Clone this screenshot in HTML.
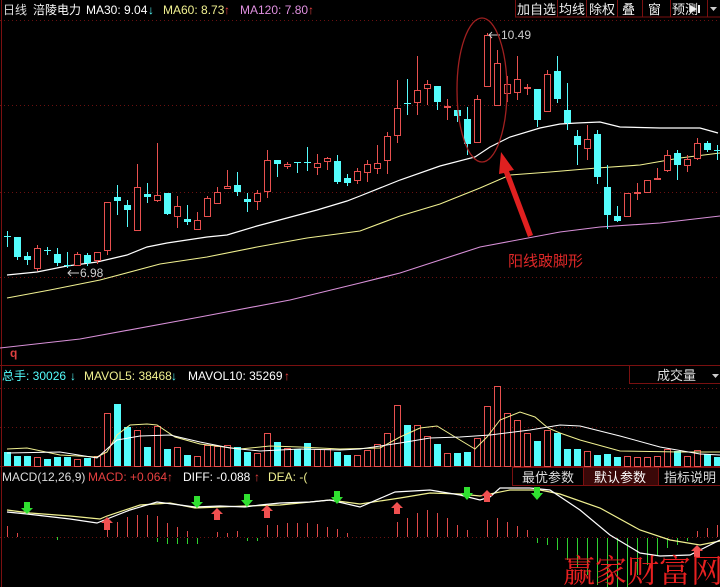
<!DOCTYPE html>
<html><head><meta charset="utf-8"><style>
body{margin:0;background:#000;width:720px;height:587px;overflow:hidden}
svg{display:block}
.c{stroke:#54fcfc;stroke-width:1}
.cb{fill:#54fcfc}
.r{stroke:#e8504f;stroke-width:1}
.rb{fill:#000;stroke:#e8504f;stroke-width:1}
text{font-family:"Liberation Sans","Noto Sans CJK SC",sans-serif;font-size:12px}
.grid{stroke:#6a1010;stroke-dasharray:1 3;stroke-width:1}
</style></head><body>
<svg width="720" height="587" viewBox="0 0 720 587" xmlns="http://www.w3.org/2000/svg">
<rect width="720" height="587" fill="#000"/>
<!-- frame -->
<line x1="1.5" y1="0" x2="1.5" y2="587" stroke="#7a1010"/>
<line x1="0" y1="365.5" x2="720" y2="365.5" stroke="#7a1010"/>
<line x1="0" y1="466.5" x2="720" y2="466.5" stroke="#7a1010"/>
<line x1="0" y1="20.5" x2="720" y2="20.5" class="grid"/>
<line x1="0" y1="105.5" x2="720" y2="105.5" class="grid"/>
<line x1="0" y1="192.5" x2="720" y2="192.5" class="grid"/>
<line x1="0" y1="277.5" x2="720" y2="277.5" class="grid"/>
<line x1="0" y1="388.5" x2="720" y2="388.5" class="grid"/>
<line x1="0" y1="427.5" x2="720" y2="427.5" class="grid"/>
<line x1="0" y1="537.5" x2="720" y2="537.5" class="grid"/>

<!-- header -->
<text x="3" y="14" fill="#ddd">日线</text>
<text x="33" y="14" fill="#fff">涪陵电力</text>
<text x="86" y="14" fill="#fff">MA30: 9.04</text><text x="148" y="14" fill="#54fcfc">↓</text>
<text x="163" y="14" fill="#f0f090">MA60: 8.73</text><text x="224" y="14" fill="#e84040">↑</text>
<text x="240" y="14" fill="#e090e0">MA120: 7.80</text><text x="308" y="14" fill="#e84040">↑</text>
<g stroke="#7a1010" fill="none">
<rect x="515.5" y="-1" width="205" height="18"/>
<line x1="557.5" y1="0" x2="557.5" y2="17"/><line x1="586.5" y1="0" x2="586.5" y2="17"/>
<line x1="617.5" y1="0" x2="617.5" y2="17"/><line x1="642.5" y1="0" x2="642.5" y2="17"/>
<line x1="670.5" y1="0" x2="670.5" y2="17"/><line x1="707.5" y1="0" x2="707.5" y2="17"/>
</g>
<g fill="#eee" font-size="13">
<text x="517" y="14" style="font-size:13px">加自选</text><text x="559" y="14" style="font-size:13px">均线</text>
<text x="589" y="14" style="font-size:13px">除权</text><text x="622" y="14" style="font-size:13px">叠</text>
<text x="648" y="14" style="font-size:13px">窗</text><text x="672" y="14" style="font-size:13px">预测</text>
</g>
<polygon points="690,5 690,13 697,9" fill="#eee"/><rect x="698" y="5" width="2" height="8" fill="#eee"/>
<polygon points="710,7 717,7 713.5,11" fill="#ccc"/>

<!-- MA lines -->
<polyline fill="none" stroke="#fff" stroke-width="1.2" points="7,275 37,272 67,266 97,262 127,255 147,247 167,243 207,237 227,235 257,226 287,218 317,210 347,201 360,196 400,180 440,166 475,157 490,147 510,137 540,128 560,124 577,123 600,122 620,127 660,128 700,128 718,133"/>
<polyline fill="none" stroke="#f0f090" stroke-width="1.1" points="7,298 50,290 100,280 160,264 207,257 257,247 307,238 360,231 400,216 440,204 480,188 510,175 550,172 597,168 640,165 680,158 720,153"/>
<polyline fill="none" stroke="#d890d8" stroke-width="1.1" points="0,348 80,339 200,317 290,300 360,283 400,273 440,260 480,247 560,232 600,227 660,223 720,216"/>

<!-- candles -->
<g shape-rendering="crispEdges">
<line x1="7.5" y1="231" x2="7.5" y2="247" class="c"/><rect x="4" y="236" width="7" height="1" class="cb"/>
<line x1="17.5" y1="237" x2="17.5" y2="260" class="c"/><rect x="14" y="237" width="7" height="20" class="cb"/>
<line x1="27.5" y1="252" x2="27.5" y2="265" class="c"/><rect x="24" y="256" width="7" height="4" class="cb"/>
<line x1="37.5" y1="245" x2="37.5" y2="271" class="r"/><rect x="34.5" y="248.5" width="6" height="20" class="rb"/>
<line x1="47.5" y1="247" x2="47.5" y2="255" class="c"/><rect x="44" y="250" width="7" height="1" class="cb"/>
<line x1="57.5" y1="248" x2="57.5" y2="266" class="c"/><rect x="54" y="254" width="7" height="9" class="cb"/>
<line x1="67.5" y1="252" x2="67.5" y2="268" class="c"/><rect x="64" y="265" width="7" height="1" class="cb"/>
<line x1="77.5" y1="252" x2="77.5" y2="265" class="r"/><rect x="74.5" y="254.5" width="6" height="11" class="rb"/>
<line x1="87.5" y1="253" x2="87.5" y2="266" class="c"/><rect x="84" y="255" width="7" height="8" class="cb"/>
<line x1="97.5" y1="252" x2="97.5" y2="264" class="r"/><rect x="94.5" y="252.5" width="6" height="8" class="rb"/>
<line x1="107.5" y1="202" x2="107.5" y2="255" class="r"/><rect x="104.5" y="202.5" width="6" height="48" class="rb"/>
<line x1="117.5" y1="185" x2="117.5" y2="215" class="c"/><rect x="114" y="197" width="7" height="4" class="cb"/>
<line x1="127.5" y1="200" x2="127.5" y2="227" class="c"/><rect x="124" y="205" width="7" height="5" class="cb"/>
<line x1="137.5" y1="164" x2="137.5" y2="230" class="r"/><rect x="134.5" y="187.5" width="6" height="43" class="rb"/>
<line x1="147.5" y1="183" x2="147.5" y2="203" class="c"/><rect x="144" y="194" width="7" height="3" class="cb"/>
<line x1="157.5" y1="143" x2="157.5" y2="202" class="r"/><rect x="154.5" y="195.5" width="6" height="5" class="rb"/>
<line x1="167.5" y1="193" x2="167.5" y2="215" class="c"/><rect x="164" y="193" width="7" height="21" class="cb"/>
<line x1="177.5" y1="196" x2="177.5" y2="228" class="r"/><rect x="174.5" y="206.5" width="6" height="10" class="rb"/>
<line x1="187.5" y1="205" x2="187.5" y2="225" class="c"/><rect x="184" y="219" width="7" height="3" class="cb"/>
<line x1="197.5" y1="212" x2="197.5" y2="230" class="r"/><rect x="194.5" y="220.5" width="6" height="9" class="rb"/>
<line x1="207.5" y1="196" x2="207.5" y2="216" class="r"/><rect x="204.5" y="198.5" width="6" height="18" class="rb"/>
<line x1="217.5" y1="187" x2="217.5" y2="204" class="r"/><rect x="214.5" y="192.5" width="6" height="11" class="rb"/>
<line x1="227.5" y1="170" x2="227.5" y2="189" class="r"/><rect x="224.5" y="186.5" width="6" height="2" class="rb"/>
<line x1="237.5" y1="172" x2="237.5" y2="196" class="c"/><rect x="234" y="185" width="7" height="7" class="cb"/>
<line x1="247.5" y1="193" x2="247.5" y2="212" class="c"/><rect x="244" y="199" width="7" height="3" class="cb"/>
<line x1="257.5" y1="190" x2="257.5" y2="210" class="r"/><rect x="254.5" y="193.5" width="6" height="8" class="rb"/>
<line x1="267.5" y1="150" x2="267.5" y2="198" class="r"/><rect x="264.5" y="160.5" width="6" height="31" class="rb"/>
<line x1="277.5" y1="160" x2="277.5" y2="177" class="c"/><rect x="274" y="160" width="7" height="4" class="cb"/>
<line x1="287.5" y1="162" x2="287.5" y2="169" class="r"/><rect x="284.5" y="164.5" width="6" height="2" class="rb"/>
<line x1="297.5" y1="162" x2="297.5" y2="173" class="c"/><rect x="294" y="162" width="7" height="1" class="cb"/>
<line x1="307.5" y1="147" x2="307.5" y2="171" class="c"/><rect x="304" y="162" width="7" height="1" class="cb"/>
<line x1="317.5" y1="154" x2="317.5" y2="175" class="r"/><rect x="314.5" y="163.5" width="6" height="4" class="rb"/>
<line x1="327.5" y1="157" x2="327.5" y2="170" class="r"/><rect x="324.5" y="158.5" width="6" height="3" class="rb"/>
<line x1="337.5" y1="155" x2="337.5" y2="184" class="c"/><rect x="334" y="161" width="7" height="21" class="cb"/>
<line x1="347.5" y1="174" x2="347.5" y2="186" class="c"/><rect x="344" y="178" width="7" height="5" class="cb"/>
<line x1="357.5" y1="168" x2="357.5" y2="184" class="r"/><rect x="354.5" y="171.5" width="6" height="9" class="rb"/>
<line x1="367.5" y1="160" x2="367.5" y2="182" class="r"/><rect x="364.5" y="164.5" width="6" height="8" class="rb"/>
<line x1="377.5" y1="145" x2="377.5" y2="174" class="r"/><rect x="374.5" y="163.5" width="6" height="5" class="rb"/>
<line x1="387.5" y1="132" x2="387.5" y2="174" class="r"/><rect x="384.5" y="136.5" width="6" height="24" class="rb"/>
<line x1="397.5" y1="80" x2="397.5" y2="143" class="r"/><rect x="394.5" y="108.5" width="6" height="27" class="rb"/>
<line x1="407.5" y1="79" x2="407.5" y2="115" class="c"/><rect x="404" y="103" width="7" height="1" class="cb"/>
<line x1="417.5" y1="56" x2="417.5" y2="115" class="r"/><rect x="414.5" y="90.5" width="6" height="12" class="rb"/>
<line x1="427.5" y1="80" x2="427.5" y2="105" class="r"/><rect x="424.5" y="84.5" width="6" height="4" class="rb"/>
<line x1="437.5" y1="86" x2="437.5" y2="110" class="c"/><rect x="434" y="86" width="7" height="16" class="cb"/>
<line x1="447.5" y1="99" x2="447.5" y2="120" class="r"/><rect x="444.5" y="106.5" width="6" height="1" class="rb"/>
<line x1="457.5" y1="110" x2="457.5" y2="122" class="c"/><rect x="454" y="110" width="7" height="6" class="cb"/>
<line x1="467.5" y1="107" x2="467.5" y2="155" class="c"/><rect x="464" y="119" width="7" height="25" class="cb"/>
<line x1="477.5" y1="95" x2="477.5" y2="142" class="r"/><rect x="474.5" y="99.5" width="6" height="43" class="rb"/>
<line x1="487.5" y1="33" x2="487.5" y2="86" class="r"/><rect x="484.5" y="35.5" width="6" height="51" class="rb"/>
<line x1="497.5" y1="50" x2="497.5" y2="105" class="r"/><rect x="494.5" y="63.5" width="6" height="42" class="rb"/>
<line x1="507.5" y1="76" x2="507.5" y2="102" class="r"/><rect x="504.5" y="84.5" width="6" height="9" class="rb"/>
<line x1="517.5" y1="56" x2="517.5" y2="100" class="r"/><rect x="514.5" y="79.5" width="6" height="13" class="rb"/>
<line x1="527.5" y1="84" x2="527.5" y2="95" class="r"/><rect x="524.5" y="87.5" width="6" height="1" class="rb"/>
<line x1="537.5" y1="89" x2="537.5" y2="127" class="c"/><rect x="534" y="89" width="7" height="31" class="cb"/>
<line x1="547.5" y1="70" x2="547.5" y2="112" class="r"/><rect x="544.5" y="74.5" width="6" height="37" class="rb"/>
<line x1="557.5" y1="56" x2="557.5" y2="103" class="c"/><rect x="554" y="71" width="7" height="28" class="cb"/>
<line x1="567.5" y1="83" x2="567.5" y2="130" class="c"/><rect x="564" y="110" width="7" height="13" class="cb"/>
<line x1="577.5" y1="130" x2="577.5" y2="165" class="c"/><rect x="574" y="136" width="7" height="9" class="cb"/>
<line x1="587.5" y1="125" x2="587.5" y2="160" class="r"/><rect x="584.5" y="139.5" width="6" height="9" class="rb"/>
<line x1="597.5" y1="130" x2="597.5" y2="184" class="c"/><rect x="594" y="134" width="7" height="43" class="cb"/>
<line x1="607.5" y1="165" x2="607.5" y2="229" class="c"/><rect x="604" y="187" width="7" height="28" class="cb"/>
<line x1="617.5" y1="206" x2="617.5" y2="222" class="c"/><rect x="614" y="216" width="7" height="5" class="cb"/>
<line x1="627.5" y1="193" x2="627.5" y2="216" class="r"/><rect x="624.5" y="193.5" width="6" height="23" class="rb"/>
<line x1="637.5" y1="183" x2="637.5" y2="200" class="r"/><rect x="634.5" y="192.5" width="6" height="1" class="rb"/>
<line x1="647.5" y1="180" x2="647.5" y2="192" class="r"/><rect x="644.5" y="180.5" width="6" height="12" class="rb"/>
<line x1="657.5" y1="168" x2="657.5" y2="180" class="r"/><rect x="654.5" y="178.5" width="6" height="1" class="rb"/>
<line x1="667.5" y1="150" x2="667.5" y2="172" class="r"/><rect x="664.5" y="155.5" width="6" height="15" class="rb"/>
<line x1="677.5" y1="150" x2="677.5" y2="180" class="c"/><rect x="674" y="153" width="7" height="12" class="cb"/>
<line x1="687.5" y1="155" x2="687.5" y2="172" class="r"/><rect x="684.5" y="159.5" width="6" height="6" class="rb"/>
<line x1="697.5" y1="138" x2="697.5" y2="160" class="r"/><rect x="694.5" y="143.5" width="6" height="15" class="rb"/>
<line x1="707.5" y1="141" x2="707.5" y2="152" class="c"/><rect x="704" y="143" width="7" height="7" class="cb"/>
<line x1="717.5" y1="145" x2="717.5" y2="160" class="c"/><rect x="714" y="150" width="7" height="1" class="cb"/>
</g>

<!-- annotations -->
<line x1="68" y1="273" x2="79" y2="273" stroke="#ccc"/><polyline points="71,270 68,273 71,276" fill="none" stroke="#ccc"/>
<text x="80" y="277" fill="#ccc">6.98</text>
<line x1="489" y1="35" x2="500" y2="35" stroke="#ccc"/><polyline points="492,32 489,35 492,38" fill="none" stroke="#ccc"/>
<text x="501" y="39" fill="#ccc">10.49</text>
<ellipse cx="482" cy="90" rx="25" ry="72" fill="none" stroke="#a02020" stroke-width="1.3"/>
<polygon points="501,152 514,170 509,171 533,235 528,237 504,173 499,174" fill="#e02020"/>
<text x="508" y="266" fill="#e02828" style="font-size:15px">阳线跛脚形</text>
<text x="10" y="357" fill="#e04040" style="font-size:12px;font-weight:bold">q</text>

<!-- volume header -->
<text x="2" y="380" fill="#54fcfc">总手: 30026</text><text x="70" y="380" fill="#54fcfc">↓</text>
<text x="84" y="380" fill="#f0f090">MAVOL5: 38468</text><text x="171" y="380" fill="#54fcfc">↓</text>
<text x="188" y="380" fill="#fff">MAVOL10: 35269</text><text x="284" y="380" fill="#e84040">↑</text>
<rect x="629.5" y="365.5" width="91" height="18" fill="none" stroke="#7a1010"/>
<text x="657" y="380" fill="#ddd" style="font-size:13px">成交量</text>
<polygon points="712,374 719,374 715.5,378" fill="#ccc"/>

<!-- volume bars -->
<g shape-rendering="crispEdges">
<rect x="4" y="452" width="7" height="14" class="cb"/>
<rect x="14" y="456" width="7" height="10" class="cb"/>
<rect x="24" y="456" width="7" height="10" class="cb"/>
<rect x="34.5" y="457.5" width="6" height="9" class="rb"/>
<rect x="44" y="459" width="7" height="7" class="cb"/>
<rect x="54" y="457" width="7" height="9" class="cb"/>
<rect x="64" y="457" width="7" height="9" class="cb"/>
<rect x="74.5" y="459.5" width="6" height="7" class="rb"/>
<rect x="84" y="458" width="7" height="8" class="cb"/>
<rect x="94.5" y="456.5" width="6" height="10" class="rb"/>
<rect x="104.5" y="413.5" width="6" height="53" class="rb"/>
<rect x="114" y="404" width="7" height="62" class="cb"/>
<rect x="124" y="427" width="7" height="39" class="cb"/>
<rect x="134.5" y="430.5" width="6" height="36" class="rb"/>
<rect x="144" y="447" width="7" height="19" class="cb"/>
<rect x="154.5" y="426.5" width="6" height="40" class="rb"/>
<rect x="164" y="449" width="7" height="17" class="cb"/>
<rect x="174.5" y="447.5" width="6" height="19" class="rb"/>
<rect x="184" y="455" width="7" height="11" class="cb"/>
<rect x="194.5" y="456.5" width="6" height="10" class="rb"/>
<rect x="204.5" y="445.5" width="6" height="21" class="rb"/>
<rect x="214.5" y="446.5" width="6" height="20" class="rb"/>
<rect x="224.5" y="445.5" width="6" height="21" class="rb"/>
<rect x="234" y="447" width="7" height="19" class="cb"/>
<rect x="244" y="452" width="7" height="14" class="cb"/>
<rect x="254.5" y="453.5" width="6" height="13" class="rb"/>
<rect x="264.5" y="433.5" width="6" height="33" class="rb"/>
<rect x="274" y="442" width="7" height="24" class="cb"/>
<rect x="284.5" y="448.5" width="6" height="18" class="rb"/>
<rect x="294" y="449" width="7" height="17" class="cb"/>
<rect x="304" y="443" width="7" height="23" class="cb"/>
<rect x="314.5" y="449.5" width="6" height="17" class="rb"/>
<rect x="324.5" y="449.5" width="6" height="17" class="rb"/>
<rect x="334" y="452" width="7" height="14" class="cb"/>
<rect x="344" y="455" width="7" height="11" class="cb"/>
<rect x="354.5" y="455.5" width="6" height="11" class="rb"/>
<rect x="364.5" y="450.5" width="6" height="16" class="rb"/>
<rect x="374.5" y="444.5" width="6" height="22" class="rb"/>
<rect x="384.5" y="433.5" width="6" height="33" class="rb"/>
<rect x="394.5" y="405.5" width="6" height="61" class="rb"/>
<rect x="404" y="425" width="7" height="41" class="cb"/>
<rect x="414.5" y="425.5" width="6" height="41" class="rb"/>
<rect x="424.5" y="436.5" width="6" height="30" class="rb"/>
<rect x="434" y="444" width="7" height="22" class="cb"/>
<rect x="444.5" y="453.5" width="6" height="13" class="rb"/>
<rect x="454" y="453" width="7" height="13" class="cb"/>
<rect x="464" y="452" width="7" height="14" class="cb"/>
<rect x="474.5" y="438.5" width="6" height="28" class="rb"/>
<rect x="484.5" y="406.5" width="6" height="60" class="rb"/>
<rect x="494.5" y="386.5" width="6" height="80" class="rb"/>
<rect x="504.5" y="413.5" width="6" height="53" class="rb"/>
<rect x="514.5" y="420.5" width="6" height="46" class="rb"/>
<rect x="524.5" y="433.5" width="6" height="33" class="rb"/>
<rect x="534" y="441" width="7" height="25" class="cb"/>
<rect x="544.5" y="430.5" width="6" height="36" class="rb"/>
<rect x="554" y="433" width="7" height="33" class="cb"/>
<rect x="564" y="449" width="7" height="17" class="cb"/>
<rect x="574" y="449" width="7" height="17" class="cb"/>
<rect x="584.5" y="451.5" width="6" height="15" class="rb"/>
<rect x="594" y="455" width="7" height="11" class="cb"/>
<rect x="604" y="454" width="7" height="12" class="cb"/>
<rect x="614" y="457" width="7" height="9" class="cb"/>
<rect x="624.5" y="456.5" width="6" height="10" class="rb"/>
<rect x="634.5" y="457.5" width="6" height="9" class="rb"/>
<rect x="644.5" y="457.5" width="6" height="9" class="rb"/>
<rect x="654.5" y="456.5" width="6" height="10" class="rb"/>
<rect x="664.5" y="449.5" width="6" height="17" class="rb"/>
<rect x="674" y="451" width="7" height="15" class="cb"/>
<rect x="684.5" y="456.5" width="6" height="10" class="rb"/>
<rect x="694.5" y="450.5" width="6" height="16" class="rb"/>
<rect x="704" y="454" width="7" height="12" class="cb"/>
<rect x="714" y="457" width="7" height="9" class="cb"/>
</g>
<polyline fill="none" stroke="#f0f090" stroke-width="1" points="7,449 27,448 60,455 97,457 107,452 117,435 130,425 147,424 157,425 175,437 200,444 240,449 270,446 300,447 340,449 380,448 400,437 420,428 437,426 460,440 475,449 487,437 500,420 520,412 535,417 548,428 560,433 580,440 620,451 680,452 720,452"/>
<polyline fill="none" stroke="#fff" stroke-width="1" points="7,453 60,452 97,458 117,440 140,436 170,435 200,442 230,448 260,451 300,449 340,450 360,449 400,443 430,438 460,437 490,435 530,430 560,425 580,426 620,436 660,447 700,454 720,455"/>

<!-- MACD header -->
<text x="2" y="481" fill="#ddd">MACD(12,26,9)</text>
<text x="88" y="481" fill="#e84040">MACD: +0.064</text><text x="167" y="481" fill="#e84040">↑</text>
<text x="183" y="481" fill="#fff">DIFF: -0.088</text><text x="254" y="481" fill="#e84040">↑</text>
<text x="268" y="481" fill="#f0f090">DEA: -(</text>
<rect x="512.5" y="467.5" width="208" height="18" fill="none" stroke="#7a1010"/>
<rect x="584" y="468" width="74" height="17" fill="#3a0808"/>
<line x1="583.5" y1="468" x2="583.5" y2="486" stroke="#7a1010"/><line x1="658.5" y1="468" x2="658.5" y2="486" stroke="#7a1010"/>
<text x="522" y="482" fill="#ddd" style="font-size:13px">最优参数</text>
<text x="594" y="482" fill="#fff" style="font-size:13px">默认参数</text>
<text x="664" y="482" fill="#ddd" style="font-size:13px">指标说明</text>

<!-- MACD histogram -->
<g stroke-width="1" shape-rendering="crispEdges">
<g stroke="#e04848">
<line x1="7.5" y1="526" x2="7.5" y2="537"/><line x1="17.5" y1="533" x2="17.5" y2="537"/>
<line x1="107.5" y1="520" x2="107.5" y2="537"/><line x1="117.5" y1="522" x2="117.5" y2="537"/><line x1="127.5" y1="517" x2="127.5" y2="537"/>
<line x1="137.5" y1="515" x2="137.5" y2="537"/><line x1="147.5" y1="515" x2="147.5" y2="537"/><line x1="157.5" y1="516" x2="157.5" y2="537"/>
<line x1="167.5" y1="523" x2="167.5" y2="537"/><line x1="177.5" y1="527" x2="177.5" y2="537"/><line x1="187.5" y1="531" x2="187.5" y2="537"/>
<line x1="217.5" y1="532" x2="217.5" y2="537"/><line x1="227.5" y1="533" x2="227.5" y2="537"/><line x1="237.5" y1="531" x2="237.5" y2="537"/>
<line x1="267.5" y1="525" x2="267.5" y2="537"/><line x1="277.5" y1="525" x2="277.5" y2="537"/><line x1="287.5" y1="523" x2="287.5" y2="537"/>
<line x1="297.5" y1="523" x2="297.5" y2="537"/><line x1="307.5" y1="523" x2="307.5" y2="537"/><line x1="317.5" y1="524" x2="317.5" y2="537"/>
<line x1="327.5" y1="527" x2="327.5" y2="537"/><line x1="337.5" y1="529" x2="337.5" y2="537"/><line x1="347.5" y1="533" x2="347.5" y2="537"/>
<line x1="397.5" y1="522" x2="397.5" y2="537"/><line x1="407.5" y1="518" x2="407.5" y2="537"/><line x1="417.5" y1="513" x2="417.5" y2="537"/>
<line x1="427.5" y1="510" x2="427.5" y2="537"/><line x1="437.5" y1="513" x2="437.5" y2="537"/><line x1="447.5" y1="518" x2="447.5" y2="537"/>
<line x1="457.5" y1="525" x2="457.5" y2="537"/><line x1="467.5" y1="530" x2="467.5" y2="537"/>
<line x1="487.5" y1="520" x2="487.5" y2="537"/><line x1="497.5" y1="518" x2="497.5" y2="537"/><line x1="507.5" y1="522" x2="507.5" y2="537"/>
<line x1="517.5" y1="526" x2="517.5" y2="537"/><line x1="527.5" y1="530" x2="527.5" y2="537"/>
<line x1="697.5" y1="531" x2="697.5" y2="537"/><line x1="707.5" y1="528" x2="707.5" y2="537"/><line x1="717.5" y1="525" x2="717.5" y2="537"/>
</g>
<g stroke="#30d030">
<line x1="57.5" y1="537" x2="57.5" y2="540"/><line x1="157.5" y1="538" x2="157.5" y2="542"/><line x1="167.5" y1="538" x2="167.5" y2="544"/>
<line x1="177.5" y1="538" x2="177.5" y2="544"/><line x1="187.5" y1="538" x2="187.5" y2="544"/><line x1="197.5" y1="538" x2="197.5" y2="544"/>
<line x1="247.5" y1="538" x2="247.5" y2="541"/><line x1="257.5" y1="538" x2="257.5" y2="541"/>
<line x1="537.5" y1="538" x2="537.5" y2="543"/><line x1="547.5" y1="538" x2="547.5" y2="545"/><line x1="557.5" y1="538" x2="557.5" y2="550"/>
<line x1="567.5" y1="538" x2="567.5" y2="560"/><line x1="577.5" y1="538" x2="577.5" y2="568"/><line x1="587.5" y1="538" x2="587.5" y2="575"/>
<line x1="597.5" y1="538" x2="597.5" y2="585"/><line x1="607.5" y1="538" x2="607.5" y2="587"/><line x1="617.5" y1="538" x2="617.5" y2="587"/>
<line x1="627.5" y1="538" x2="627.5" y2="587"/><line x1="637.5" y1="538" x2="637.5" y2="575"/><line x1="647.5" y1="538" x2="647.5" y2="565"/>
<line x1="657.5" y1="538" x2="657.5" y2="555"/><line x1="667.5" y1="538" x2="667.5" y2="548"/><line x1="677.5" y1="538" x2="677.5" y2="545"/>
<line x1="687.5" y1="538" x2="687.5" y2="541"/>
</g>
</g>
<!-- MACD lines -->
<polyline fill="none" stroke="#f0f090" stroke-width="1.2" points="7,510 30,513 70,516 100,519 107,516 140,505 170,503 195,508 245,506 280,505 330,500 360,504 400,498 430,493 460,494 480,496 510,490 540,490 560,494 600,508 640,530 670,540 700,545 720,541"/>
<polyline fill="none" stroke="#fff" stroke-width="1.2" points="7,512 27,514 70,519 97,523 107,519 130,510 157,502 180,505 195,507 220,506 245,507 260,505 280,503 310,502 330,500 360,507 395,492 430,490 460,495 480,500 490,497 500,488 530,488 550,490 580,510 610,535 640,553 660,556 690,555 720,540"/>
<!-- signal arrows -->
<g fill="#30e030">
<polygon points="24,502 30,502 30,508 33,508 27,514 21,508 24,508"/>
<polygon points="194,496 200,496 200,502 203,502 197,508 191,502 194,502"/>
<polygon points="244,494 250,494 250,500 253,500 247,507 241,500 244,500"/>
<polygon points="334,491 340,491 340,497 343,497 337,504 331,497 334,497"/>
<polygon points="464,487 470,487 470,493 473,493 467,500 461,493 464,493"/>
<polygon points="534,487 540,487 540,493 543,493 537,500 531,493 534,493"/>
</g>
<g fill="#f05050">
<polygon points="107,517 113,523 110,523 110,530 104,530 104,523 101,523"/>
<polygon points="217,508 223,514 220,514 220,520 214,520 214,514 211,514"/>
<polygon points="267,505 273,511 270,511 270,518 264,518 264,511 261,511"/>
<polygon points="397,502 403,508 400,508 400,514 394,514 394,508 391,508"/>
<polygon points="487,490 493,496 490,496 490,502 484,502 484,496 481,496"/>
<polygon points="697,545 703,551 700,551 700,557 694,557 694,551 691,551"/>
</g>
<!-- watermark -->
<text x="563" y="582" fill="#e82020" style="font-family:'Noto Serif CJK SC','Liberation Serif',serif;font-size:32px;letter-spacing:0px">赢家财富网</text>
</svg>
</body></html>
